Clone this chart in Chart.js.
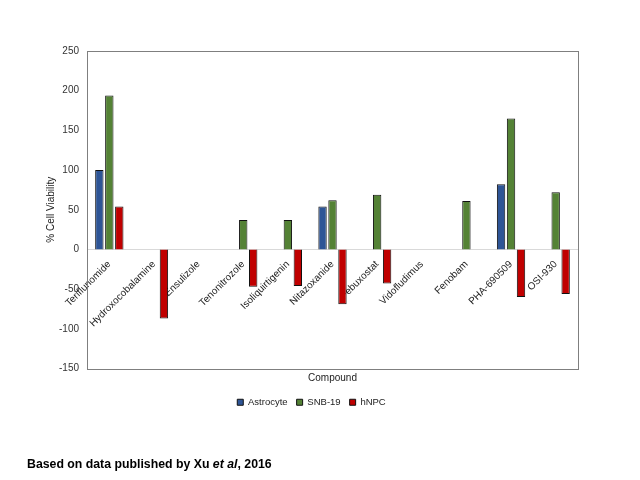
<!DOCTYPE html>
<html><head><meta charset="utf-8">
<script src="https://cdn.jsdelivr.net/npm/chart.js@4"></script>
<style>
html,body{margin:0;padding:0;background:#fff;}
#wrap{position:relative;width:640px;height:480px;}
#foot{position:absolute;left:27px;top:457px;font:bold 12.3px "Liberation Sans",Arial,sans-serif;color:#000;white-space:nowrap;}
</style>
</head><body>
<div id="wrap"><canvas id="c" width="640" height="480" style="width:640px;height:480px"></canvas>
<div id="foot">Based on data published by Xu <i>et al</i>, 2016</div></div>
<script>
const compounds = ['Teriflunomide','Hydroxocobalamine','Ensulizole','Tenonitrozole','Isoliquirtigenin','Nitazoxanide','Febuxostat','Vidofludimus','Fenobam','PHA-690509','OSI-930'];
const astrocyte = [100, null, null, null, null, 54, null, null, null, 82, null];
const snb19 = [194, null, null, 37, 37, 62, 69, null, 61, 165, 72];
const hnpc = [54, -87, null, -47, -46, -69, -43, null, null, -60, -56];
const yMin = -150, yMax = 250, yStep = 50;

const FONT = '"Liberation Sans", Arial, Helvetica, sans-serif';
Chart.defaults.font.family = FONT;

const boxPlugin = {
  id: 'box',
  beforeDatasetsDraw(chart) {
    const a = chart.chartArea, ctx = chart.ctx;
    ctx.save();
    ctx.strokeStyle = '#7f7f7f';
    ctx.lineWidth = 1;
    ctx.strokeRect(Math.round(a.left) + 0.5, Math.round(a.top) + 0.5, Math.round(a.right - a.left), Math.round(a.bottom - a.top));
    ctx.restore();
  }
};

new Chart(document.getElementById('c'), {
  type: 'bar',
  data: {
    labels: compounds,
    datasets: [
      {label: 'Astrocyte', data: astrocyte, backgroundColor: '#2e5596', borderColor: '#111', borderWidth: 1},
      {label: 'SNB-19', data: snb19, backgroundColor: '#548235', borderColor: '#111', borderWidth: 1},
      {label: 'hNPC', data: hnpc, backgroundColor: '#c00000', borderColor: '#111', borderWidth: 1}
    ]
  },
  options: {
    responsive: false,
    animation: false,
    devicePixelRatio: 1,
    categoryPercentage: 0.67,
    barPercentage: 0.84,
    layout: {padding: {left: 45, right: 62, top: 51, bottom: 63}},
    plugins: {
      legend: {position: 'bottom', labels: {boxWidth: 6, boxHeight: 6, padding: 9, color: '#222', font: {size: 9.5}}},
      tooltip: {enabled: false}
    },
    scales: {
      y: {
        min: yMin, max: yMax,
        ticks: {stepSize: yStep, color: '#333', font: {size: 10}, padding: 8},
        grid: {display: false, drawTicks: false},
        border: {display: false},
        title: {display: true, text: '% Cell Viability', color: '#222', font: {size: 10}, padding: {top: 0, bottom: 0}},
        afterFit(s) { s.width = 42; }
      },
      x: {
        position: {y: 0},
        ticks: {minRotation: 45, maxRotation: 45, autoSkip: false, color: '#222', font: {size: 10}, padding: 9},
        grid: {display: false, drawTicks: false},
        border: {display: true, color: '#d9d9d9'}
      },
      x2: {
        type: 'category', labels: compounds, position: 'bottom',
        ticks: {display: false},
        grid: {display: false, drawTicks: false},
        border: {display: false},
        title: {display: true, text: 'Compound', color: '#222', font: {size: 10}, padding: {top: 2, bottom: 4}},
        afterFit(s) { s.height = 20; }
      }
    }
  },
  plugins: [boxPlugin]
});
</script>
</body></html>
